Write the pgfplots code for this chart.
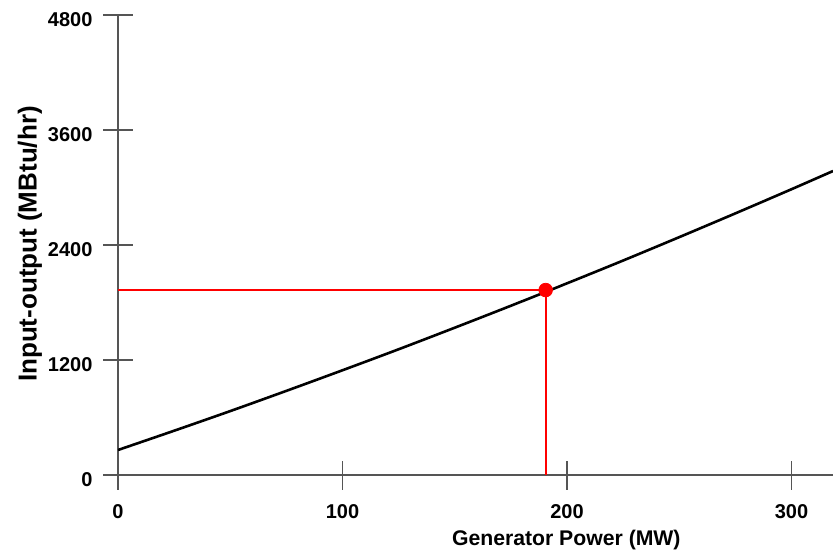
\documentclass[border=0pt]{standalone}
\usepackage{fontspec}
\setmainfont{Liberation Sans}
\usepackage{pgfplots}
\pgfplotsset{compat=1.18}
\definecolor{axgray}{RGB}{85,85,85}
\definecolor{ptred}{RGB}{255,0,0}
\begin{document}
\begin{tikzpicture}
\begin{axis}[
  at={(0,0)}, anchor=south west,
  scale only axis,
  width=357.5pt, height=230pt,
  xmin=0, xmax=318.5,
  ymin=0, ymax=4800,
  axis lines*=left,
  axis line style={axgray, line width=0.9pt},
  xtick={0,100,200,300},
  ytick={0,1200,2400,3600,4800},
  tick align=center,
  major tick length=14.5pt,
  tick style={axgray, line width=0.9pt},
  /pgf/number format/assume math mode=true,
  /pgf/number format/1000 sep={},
  ticklabel style={font=\bfseries\fontsize{10}{12}\selectfont},
  xticklabel style={yshift=-4pt},
  yticklabel style={xshift=-2pt, yshift=-2.5pt},
  xlabel={Generator Power (MW)},
  ylabel={Input-output (MBtu/hr)},
  xlabel style={at={(rel axis cs:0.627,0)}, anchor=center, yshift=-32.3pt,
    font=\bfseries\fontsize{10.6}{12}\selectfont},
  ylabel style={at={(rel axis cs:0,0.502)}, anchor=center, yshift=44pt,
    font=\bfseries\fontsize{13}{15}\selectfont},
  clip=true,
]
% red guide lines to the operating point
\addplot[draw=ptred, line width=0.9pt] coordinates {(0,1930) (190.5,1930)};
\addplot[draw=ptred, line width=0.9pt] coordinates {(190.5,0) (190.5,1930)};
% input-output curve
\addplot[black, line width=1.3pt, smooth] coordinates {
  (0,261) (25,462) (50,667) (75,878) (100,1093) (125,1312) (150,1537)
  (175,1766) (200,2000) (225,2238) (250,2482) (275,2730) (300,2982) (318.5,3172)
};
% operating point
\addplot[only marks, mark=*, mark size=3.4pt, ptred] coordinates {(190.5,1930)};
\end{axis}
\pgfresetboundingbox
\path (-59pt,-38.5pt) rectangle (357.5pt,237.5pt);
\end{tikzpicture}
\end{document}
